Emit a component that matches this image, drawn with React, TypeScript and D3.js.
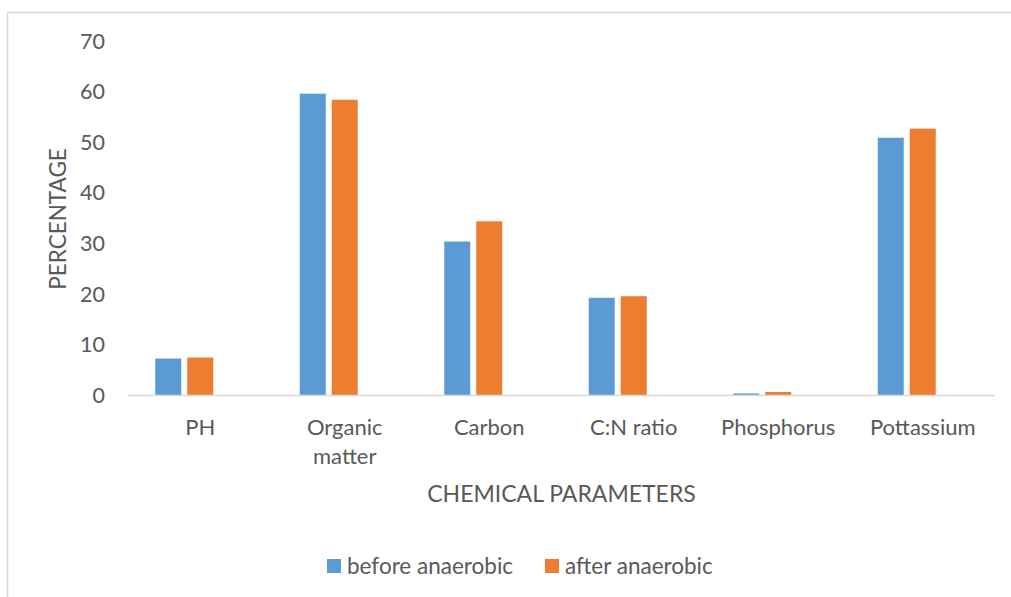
import * as d3 from "d3";

const categories = ["PH", "Organic matter", "Carbon", "C:N ratio", "Phosphorus", "Pottassium"];
const before = [7.3, 59.6, 30.4, 19.3, 0.4, 50.9];
const after = [7.5, 58.4, 34.4, 19.6, 0.7, 52.7];
const seriesNames = ["before anaerobic", "after anaerobic"];
const seriesColors = ["#5B9BD5", "#ED7D31"];
const yTicks = [0, 10, 20, 30, 40, 50, 60, 70];

const W = 1011;
const H = 597;
const font = "Lato, 'Open Sans', sans-serif";
const textColor = "#595959";

export default function App() {
  const x0 = d3.scaleBand<string>().domain(categories).range([128, 995]);
  // Excel leaves room for a third (empty) series slot, so groups sit left of centre
  const x1 = d3.scaleBand<number>().domain([0, 1, 2]).range([27.25, x0.bandwidth() - 27.25]).paddingInner(6 / 32);
  const y = d3.scaleLinear().domain([0, 70]).range([395.5, 41]);
  const values = [before, after];

  return (
    <svg width={W} height={H} style={{ position: "absolute", left: 0, top: 0, background: "#fff" }}>
      <rect x={7.5} y={12.5} width={W + 10} height={H + 10} fill="#fff" stroke="#d9d9d9" strokeWidth={1.5} />

      {/* y tick labels */}
      {yTicks.map(t => (
        <text key={t} x={105} y={y(t)} dy="0.35em" textAnchor="end" fontFamily={font} fontSize={21.5} fill={textColor}>
          {t}
        </text>
      ))}

      {/* bars */}
      {categories.map((c, i) => (
        <g key={c} transform={`translate(${x0(c)},0)`}>
          {values.map((vals, s) => (
            <rect key={s} x={x1(s)} y={y(vals[i])} width={x1.bandwidth()} height={y(0) - y(vals[i])} fill={seriesColors[s]} />
          ))}
        </g>
      ))}

      {/* x axis line */}
      <line x1={128} x2={995} y1={y(0)} y2={y(0)} stroke="#d9d9d9" strokeWidth={1.5} />

      {/* category labels */}
      {categories.map(c => {
        const cx = (x0(c) ?? 0) + x0.bandwidth() / 2;
        const lines = c === "Organic matter" ? ["Organic", "matter"] : [c];
        return (
          <text key={c} x={cx} y={427} textAnchor="middle" fontFamily={font} fontSize={22} fill={textColor}>
            {lines.map((l, k) => (
              <tspan key={k} x={cx} dy={k === 0 ? "0.35em" : 29}>{l}</tspan>
            ))}
          </text>
        );
      })}

      {/* axis titles */}
      <text transform="translate(58,219) rotate(-90)" dy="0.35em" textAnchor="middle" fontFamily={font} fontSize={22.5} fill={textColor}>
        PERCENTAGE
      </text>
      <text x={(128 + 995) / 2} y={494} dy="0.35em" textAnchor="middle" fontFamily={font} fontSize={23} fill={textColor}>
        CHEMICAL PARAMETERS
      </text>

      {/* legend */}
      {seriesNames.map((n, s) => {
        const lx = s === 0 ? 327 : 545;
        return (
          <g key={n}>
            <rect x={lx} y={559} width={14} height={14} fill={seriesColors[s]} />
            <text x={lx + 20} y={566} dy="0.35em" fontFamily={font} fontSize={22.5} fill={textColor}>{n}</text>
          </g>
        );
      })}
    </svg>
  );
}
